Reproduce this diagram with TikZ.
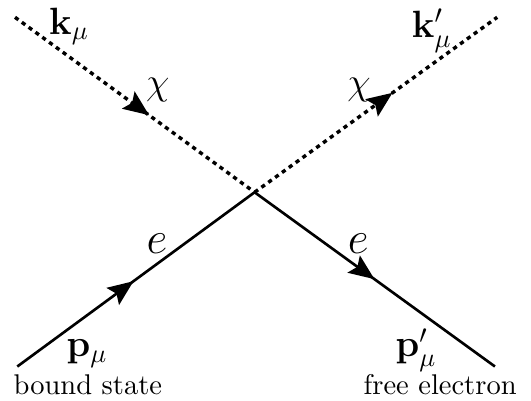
\documentclass[tikz,border=0pt]{standalone}
\usepackage{amsmath,amssymb,bm}
\usetikzlibrary{arrows.meta,decorations.markings}

\begin{document}
\begin{tikzpicture}[
  dark/.style={line width=1.3pt, dash pattern=on 1.6pt off 1.6pt},
  fermion/.style={line width=1pt},
  midarrow/.style={postaction={decorate}, decoration={markings,
    mark=at position #1 with {\arrow{Stealth[length=3.4mm,width=2.8mm,inset=0.6mm]}}}},
  lbl/.style={inner sep=0pt, font=\Large},
  tag/.style={inner sep=0pt, font=\fontsize{10.8}{12}\selectfont}
]
  \useasboundingbox (0,0) rectangle (7.07,5.33);

  \coordinate (vtx) at (3.39,2.77);
  \coordinate (kin) at (0.20,5.10);
  \coordinate (kout) at (6.62,5.10);
  \coordinate (pin) at (0.23,0.45);
  \coordinate (pout) at (6.59,0.45);

  \draw[dark, midarrow=0.56] (kin) -- (vtx);
  \draw[dark, midarrow=0.57] (vtx) -- (kout);
  \draw[fermion, midarrow=0.49] (pin) -- (vtx);
  \draw[fermion, midarrow=0.50] (vtx) -- (pout);

  \node[lbl] (kmu) at (0.92,4.98) {$\mathbf{k}_\mu$};
  \node[lbl] (kpmu) at (5.75,4.92) {$\mathbf{k}'_\mu$};
  \node[lbl] (chil) at (2.10,4.13) {$\chi$};
  \node[lbl] (chir) at (4.78,4.13) {$\chi$};
  \node[lbl, font=\LARGE] (el) at (2.09,2.08) {$e$};
  \node[lbl, font=\LARGE] (er) at (4.77,2.08) {$e$};
  \node[lbl] (pmu) at (1.16,0.62) {$\mathbf{p}_\mu$};
  \node[lbl] (ppmu) at (5.54,0.67) {$\mathbf{p}'_\mu$};
  \node[tag] (bound) at (1.17,0.21) {bound state};
  \node[tag] (free) at (5.86,0.21) {free electron};
\end{tikzpicture}
\end{document}
